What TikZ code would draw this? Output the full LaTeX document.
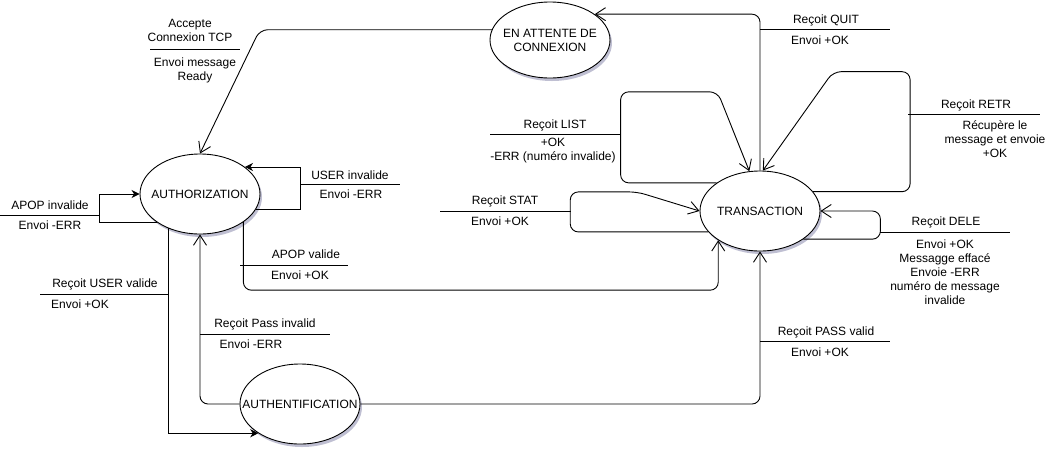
\documentclass[tikz,border=0pt]{standalone}
\usepackage{fontspec}
\setmainfont{Liberation Sans}
\usetikzlibrary{shapes, arrows.meta, shadows, positioning}

\begin{document}
\begin{tikzpicture}[x=1pt, y=-1pt, line width=0.9pt,
    font=\fontsize{12}{14}\selectfont,
    state/.style={draw, ellipse, fill=white, minimum width=120pt, minimum height=80pt, inner sep=0pt,
        drop shadow={shadow xshift=2pt, shadow yshift=-3pt, opacity=0.25, fill=black!70!blue}},
    lbl/.style={align=center, inner sep=0pt},
    openarrow/.style={-{Straight Barb[length=10pt, width=13pt]}, rounded corners=8pt},
    fullarrow/.style={-{Stealth[length=8pt, width=8pt, inset=2.5pt]}}]
    \useasboundingbox (0,0) rectangle (1057,451);

    % states
    \node[state, minimum height=76pt] (wait) at (550,40) {};
    \node[lbl] (wait-txt) at (wait) {EN ATTENTE DE\\CONNEXION};
    \node[state] (auth) at (200,194) {};
    \node[lbl] (auth-txt) at (auth) {AUTHORIZATION};
    \node[state] (trans) at (760,211) {};
    \node[lbl] (trans-txt) at (trans) {TRANSACTION};
    \node[state] (authn) at (300,404) {};
    \node[lbl] (authn-txt) at (authn) {AUTHENTIFICATION};

    % transitions
    \draw[openarrow] (wait.170) -- ++(-232,0) -- (auth.north);
    \draw[openarrow] (trans.north) |- (wait.30);
    \draw[openarrow] (trans.20) -- ++(97,0) -- ++(0,-120) -- ++(-77,0) -- (trans.86);
    \draw[openarrow] (trans.-33) -- ++(77,0) |- (trans.east);
    \draw[openarrow] (trans.147) -- ++(-96,0) -- ++(0,-91) -- ++(97,0) -- (trans.105);
    \draw[openarrow] (trans.-158) -- ++(-138,0) -- ++(0,-40) -- ++(67,0) -- (trans.west);
    \draw[fullarrow] (auth.-147) -- ++(-57,0) |- (auth.west);
    \draw[fullarrow] (auth.-16) -- ++(45,0) |- (auth.31);
    \draw[openarrow] (auth.-33) -- ++(0,68) -| (trans.-145);
    \draw[fullarrow] (auth.-133) |- (authn.-145);
    \draw[openarrow] (authn.west) -| (auth.south);
    \draw[openarrow] (authn.east) -| (trans.south);

    % labels
    \draw (150,49) -- (240,49);
    \node[lbl] (tcp-in) at (190,30) {Accepte\\Connexion TCP};
    \node[lbl] (tcp-out) at (195,70) {Envoi message\\Ready};

    \draw (760,29) -- (890,29);
    \node[lbl] (quit-in) at (826,20) {Reçoit QUIT};
    \node[lbl] (quit-out) at (820,40) {Envoi +OK};

    \draw (908,114) -- (1040,114);
    \node[lbl] (retr-in) at (976,105) {Reçoit RETR};
    \node[lbl] (retr-out) at (995,139) {Récupère le\\message et envoie\\+OK};

    \draw (880,232) -- (1010,232);
    \node[lbl] (dele-in) at (946,222) {Reçoit DELE};
    \node[lbl] (dele-out) at (945,272) {Envoi +OK\\Messagge effacé\\Envoie -ERR\\numéro de message\\invalide};

    \draw (490,134) -- (621,134);
    \node[lbl] (list-in) at (555,125) {Reçoit LIST};
    \node[lbl] (list-out) at (553,151) {+OK\\-ERR (numéro invalide)};

    \draw (440,211) -- (571,211);
    \node[lbl] (stat-in) at (505,201) {Reçoit STAT};
    \node[lbl] (stat-out) at (500,221) {Envoi +OK};

    \draw (0,215) -- (100,215);
    \node[lbl] (apop-bad-in) at (50,205) {APOP invalide};
    \node[lbl] (apop-bad-out) at (50,225) {Envoi -ERR};

    \draw (300,184) -- (400,184);
    \node[lbl] (user-bad-in) at (350,175) {USER invalide};
    \node[lbl] (user-bad-out) at (351,194) {Envoi -ERR};

    \draw (240,265) -- (348,265);
    \node[lbl] (apop-ok-in) at (306,254) {APOP valide};
    \node[lbl] (apop-ok-out) at (300,275) {Envoi +OK};

    \draw (40,294) -- (168,294);
    \node[lbl] (user-ok-in) at (105,284) {Reçoit USER valide};
    \node[lbl] (user-ok-out) at (80,304) {Envoi +OK};

    \draw (200,334) -- (330,334);
    \node[lbl] (pass-bad-in) at (265,324) {Reçoit Pass invalid};
    \node[lbl] (pass-bad-out) at (251,344) {Envoi -ERR};

    \draw (760,341) -- (890,341);
    \node[lbl] (pass-ok-in) at (826,332) {Reçoit PASS valid};
    \node[lbl] (pass-ok-out) at (820,352) {Envoi +OK};
\end{tikzpicture}
\end{document}
